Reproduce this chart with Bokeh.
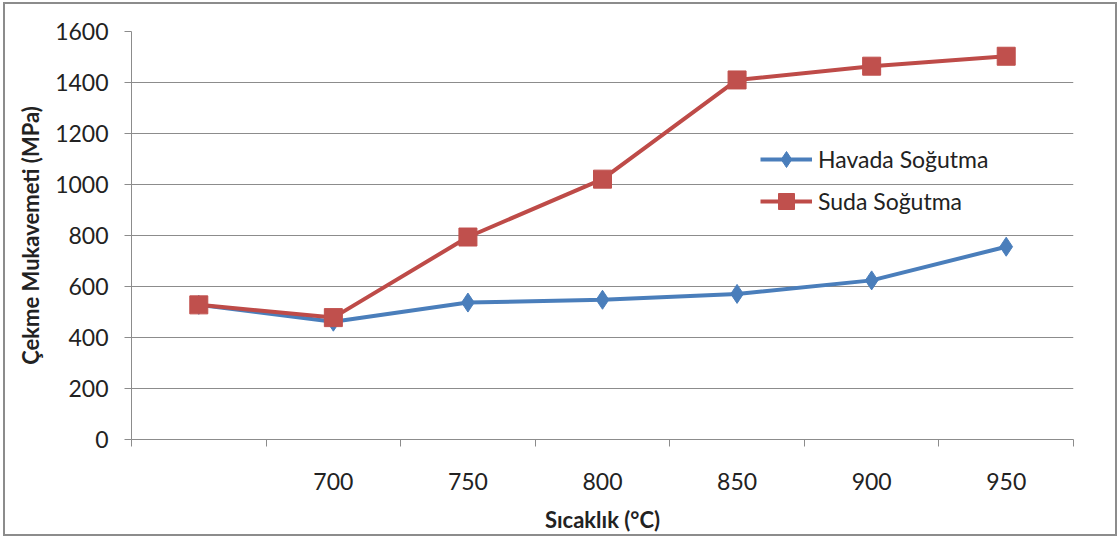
from bokeh.plotting import figure
from bokeh.models import FixedTicker, Legend, LegendItem
from bokeh.embed import file_html
from bokeh.resources import INLINE

categories = ["", "700", "750", "800", "850", "900", "950"]
havada = [528, 462, 537, 548, 571, 624, 756]
suda = [528, 478, 794, 1021, 1410, 1464, 1503]
y_ticks = [0, 200, 400, 600, 800, 1000, 1200, 1400, 1600]

FONT = "Lato"
x = [i + 0.5 for i in range(len(categories))]

p = figure(width=1114, height=534, output_backend="svg", toolbar_location=None,
           x_range=(0, len(categories)), y_range=(0, 1600),
           min_border_left=126, min_border_right=46, min_border_top=27, min_border_bottom=99)
p.styles = {"border": "2px solid #8c8c8c", "margin-left": "3px", "margin-top": "2px"}
p.outline_line_color = None
p.background_fill_color = "white"
p.border_fill_color = "white"

# grid
p.xgrid.visible = False
p.ygrid.grid_line_color = "#8c8c8c"
p.ygrid.grid_line_width = 1
p.yaxis.ticker = FixedTicker(ticks=y_ticks)

# axes
p.yaxis.axis_line_color = "#8c8c8c"
p.yaxis.major_tick_line_color = "#8c8c8c"
p.yaxis.major_tick_out = 7
p.yaxis.major_tick_in = 0
p.yaxis.minor_tick_line_color = None
p.yaxis.major_label_standoff = 16
p.yaxis.major_label_text_font = FONT
p.yaxis.major_label_text_font_size = "23px"
p.yaxis.major_label_text_color = "#222222"
p.yaxis.axis_label = "Çekme Mukavemeti (MPa)"
p.yaxis.axis_label_text_font = FONT
p.yaxis.axis_label_text_font_size = "22px"
p.yaxis.axis_label_text_font_style = "bold"
p.yaxis.axis_label_text_color = "#222222"
p.yaxis.axis_label_standoff = 8

p.xaxis.ticker = FixedTicker(ticks=x, minor_ticks=list(range(len(categories) + 1)))
p.xaxis.major_label_overrides = {xi: c for xi, c in zip(x, categories)}
p.xaxis.axis_line_color = "#8c8c8c"
p.xaxis.major_tick_line_color = None
p.xaxis.major_tick_out = 0
p.xaxis.major_tick_in = 0
p.xaxis.minor_tick_line_color = "#8c8c8c"
p.xaxis.minor_tick_out = 7
p.xaxis.minor_tick_in = 0
p.xaxis.major_label_standoff = 26
p.xaxis.major_label_text_font = FONT
p.xaxis.major_label_text_font_size = "23px"
p.xaxis.major_label_text_color = "#222222"
p.xaxis.axis_label = "Sıcaklık (°C)"
p.xaxis.axis_label_text_font = FONT
p.xaxis.axis_label_text_font_size = "22px"
p.xaxis.axis_label_text_font_style = "bold"
p.xaxis.axis_label_text_color = "#222222"
p.xaxis.axis_label_standoff = 13

blue = "#4A7EBB"
red = "#BE4B48"
l1 = p.line(x, havada, line_color=blue, line_width=4)
m1 = p.scatter(x, havada, marker="diamond", size=19, fill_color=blue, line_color=blue)
l2 = p.line(x, suda, line_color=red, line_width=4)
m2 = p.scatter(x, suda, marker="square", size=18, fill_color="#C0504D", line_color="#C0504D")

legend = Legend(items=[LegendItem(label="Havada Soğutma", renderers=[l1, m1]),
                       LegendItem(label="Suda Soğutma", renderers=[l2, m2])],
                location=(629, 218), background_fill_alpha=0, border_line_color=None,
                label_text_font=FONT, label_text_font_size="23px", label_text_color="#222222",
                glyph_width=52, glyph_height=40, spacing=2, label_standoff=6, padding=0, margin=0)
p.add_layout(legend, "center")

open("out.html", "w").write(file_html(p, INLINE))
